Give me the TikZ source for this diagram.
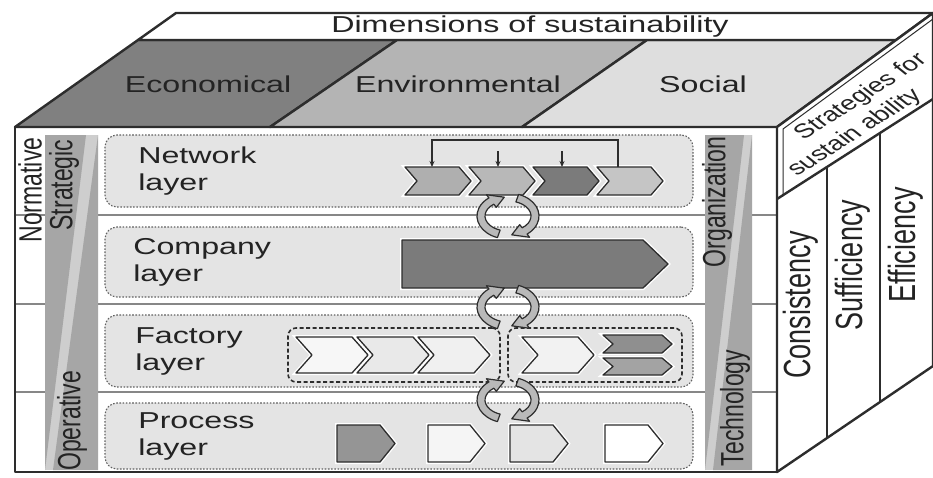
\documentclass[tikz,border=0pt]{standalone}
\usepackage{fontspec}
\setmainfont{Liberation Sans}
\usetikzlibrary{arrows.meta, calc}

\definecolor{EdgeColor}{RGB}{45,45,45}
\definecolor{TextColor}{RGB}{35,35,35}
\definecolor{EconGray}{RGB}{128,128,128}
\definecolor{EnvGray}{RGB}{180,180,180}
\definecolor{SocGray}{RGB}{222,222,222}
\definecolor{RowGray}{RGB}{228,228,228}
\definecolor{BandDark}{RGB}{166,166,166}
\definecolor{BandLight}{RGB}{206,206,206}
\definecolor{RuleGray}{RGB}{135,135,135}
\definecolor{LoopGray}{RGB}{185,185,185}
\definecolor{CompGray}{RGB}{123,123,123}

\tikzset{
  edge/.style={draw=EdgeColor, line width=2.4pt, line join=round},
  rowbox/.style={draw=EdgeColor!75, fill=RowGray, rounded corners=12pt, dash pattern=on 1.6pt off 1.6pt, line width=1.1pt, minimum width=588pt, inner sep=0pt},
  groupbox/.style={draw=EdgeColor, rounded corners=8pt, dash pattern=on 4pt off 2.5pt, line width=1.6pt, inner sep=0pt, minimum height=54pt},
  lbl/.style={font=\fontsize{23}{27}\selectfont, text=TextColor, inner sep=0pt, xscale=1.4},
  vlbl/.style={lbl, rotate=90},
  rowlbl/.style={lbl, align=left, anchor=west},
  slantlbl/.style={lbl, font=\fontsize{20}{24}\selectfont, rotate=41.6},
  part/.style={draw=EdgeColor, line width=1.3pt, line join=round, preaction={draw=white, line width=4pt}},
  feedback/.style={draw=EdgeColor, line width=1.3pt, -{Stealth[length=6pt, width=5pt]}},
  looparc/.style={draw=EdgeColor, fill=LoopGray, line width=1.2pt, line join=round},
}

% left x, tip x, top y, bottom y, depth, fill
\newcommand{\chevshape}[6]{%
  \path[part, fill=#6] (#1,#3) -- ({#2-#5},#3) -- (#2,{(#3+#4)/2}) -- ({#2-#5},#4) -- (#1,#4) -- ({#1+#5},{(#3+#4)/2}) -- cycle;}
\newcommand{\tagshape}[6]{%
  \path[part, fill=#6] (#1,#3) -- ({#2-#5},#3) -- (#2,{(#3+#4)/2}) -- ({#2-#5},#4) -- (#1,#4) -- cycle;}
% pair of circular arrows round a coordinate
\newcommand{\loopicon}[1]{%
  \path[looparc] ($(#1)+(110:31 and 23)$) arc[start angle=110, end angle=232, x radius=31, y radius=23]
    -- ($(#1)+(232:35 and 27)$) -- ($(#1)+(262:27 and 19)$) -- ($(#1)+(232:19 and 11)$) -- ($(#1)+(232:23 and 15)$)
    arc[start angle=232, end angle=110, x radius=23, y radius=15] -- cycle;
  \path[looparc] ($(#1)+(290:31 and 23)$) arc[start angle=290, end angle=412, x radius=31, y radius=23]
    -- ($(#1)+(412:35 and 27)$) -- ($(#1)+(442:27 and 19)$) -- ($(#1)+(412:19 and 11)$) -- ($(#1)+(412:23 and 15)$)
    arc[start angle=412, end angle=290, x radius=23, y radius=15] -- cycle;}

\begin{document}
\begin{tikzpicture}[x=1pt, y=-1pt]
\useasboundingbox (0,0) rectangle (933,477);

% front face
\fill[white] (15,127) rectangle (777,472);
\foreach \y in {215,304,392}
  \draw[RuleGray, line width=2.5pt] (15,\y) -- (777,\y);

\node[rowbox, minimum height=72pt] (netrow) at (399,171) {};
\node[rowbox, minimum height=70pt] (comprow) at (399,262) {};
\node[rowbox, minimum height=72pt] (factrow) at (399,351) {};
\node[rowbox, minimum height=66pt] (procrow) at (399,436) {};

% side bands
\fill[BandLight] (45,135) rectangle (98,470);
\fill[BandDark] (45,135) -- (86,135) -- (45,470) -- cycle;
\fill[BandDark] (98,135) -- (98,470) -- (53,470) -- cycle;
\fill[BandLight] (705,135) rectangle (752,470);
\fill[BandDark] (705,135) -- (744,135) -- (705,470) -- cycle;
\fill[BandDark] (752,135) -- (752,470) -- (713,470) -- cycle;

\node[vlbl] (normative) at (30,190) {Normative};
\node[vlbl] (strategic) at (64,185) {Strategic};
\node[vlbl] (operative) at (72,421) {Operative};
\node[vlbl] (organization) at (717,202) {Organization};
\node[vlbl] (technology) at (735,408) {Technology};

\node[rowlbl] (netlbl) at (138,171) {Network\\layer};
\node[rowlbl] (complbl) at (133,262) {Company\\layer};
\node[rowlbl] (factlbl) at (135,351) {Factory\\layer};
\node[rowlbl] (proclbl) at (138,436) {Process\\layer};

% network layer
\chevshape{405}{471}{167}{195}{12}{BandDark!90!white}
\chevshape{469}{535}{167}{195}{12}{BandDark!80!white}
\chevshape{533}{599}{167}{195}{12}{CompGray}
\chevshape{597}{663}{167}{195}{12}{BandDark!65!white}
\coordinate (net1top) at (432,167);
\coordinate (net2top) at (498,167);
\coordinate (net3top) at (562,167);
\coordinate (net4top) at (618,167);
\coordinate (net2in) at (498,151);
\coordinate (net3in) at (562,151);
\draw[feedback] (net4top) -- ++(0,-27) -| (net1top);
\draw[feedback] (net2in) -- (net2top);
\draw[feedback] (net3in) -- (net3top);

% company layer
\tagshape{402}{668}{240}{288}{25}{CompGray}

% factory layer
\node[groupbox, minimum width=212pt] (factgrpA) at (394,355) {};
\node[groupbox, minimum width=174pt] (factgrpB) at (595,355) {};
\chevshape{296}{368}{337}{373}{16}{white!97!black}
\chevshape{357}{429}{337}{373}{16}{RowGray!80!white}
\chevshape{418}{490}{337}{373}{16}{white!94!black}
\chevshape{522}{594}{337}{373}{16}{white!95!black}
\chevshape{603}{672}{335}{353}{10}{CompGray!85!white}
\chevshape{603}{672}{358}{375}{10}{CompGray!70!white}

% process layer
\tagshape{337}{395}{425}{462}{15}{BandDark!90!black}
\tagshape{428}{485}{425}{462}{15}{white!96!black}
\tagshape{510}{568}{425}{462}{15}{RowGray}
\tagshape{605}{663}{425}{462}{15}{white}

% cycles between layers
\coordinate (loopNC) at (508,216);
\coordinate (loopCF) at (508,307);
\coordinate (loopFP) at (508,400);
\loopicon{loopNC}
\loopicon{loopCF}
\loopicon{loopFP}

\draw[edge] (15,127) rectangle (777,472);

% top face
\path[edge, fill=EconGray] (15,127) -- (270,127) -- (397,40) -- (138,40) -- cycle;
\path[edge, fill=EnvGray] (270,127) -- (522,127) -- (647,40) -- (397,40) -- cycle;
\path[edge, fill=SocGray] (522,127) -- (777,127) -- (896,40) -- (647,40) -- cycle;
\path[edge, fill=white] (138,40) -- (896,40) -- (933,13) -- (176,13) -- cycle;
\node[lbl] (dims) at (530,27) {Dimensions of sustainability};
\node[lbl] (econ) at (208,84) {Economical};
\node[lbl] (env) at (458,84) {Environmental};
\node[lbl] (soc) at (703,84) {Social};

% right face
\coordinate (rTL) at (777,127);
\coordinate (rTR) at (933,13);
\coordinate (sbL) at (777,199);
\coordinate (sbR) at (933,99);
\coordinate (rBL) at (777,472);
\coordinate (rBR) at (933,366);
\path[edge, fill=white] (rTL) -- (rTR) -- (rBR) -- (rBL) -- cycle;
\draw[edge] (sbL) -- (sbR);
\draw[EdgeColor, line width=1pt] (783,196) -- (783,129) -- (933,19);
\draw[EdgeColor, line width=1.6pt] ($(sbL)!0.32!(sbR)$) -- ($(rBL)!0.32!(rBR)$);
\draw[EdgeColor, line width=1.6pt] ($(sbL)!0.66!(sbR)$) -- ($(rBL)!0.66!(rBR)$);
\node[slantlbl] (strat) at (861,97) {Strategies for};
\node[slantlbl] (sustain) at (855,133) {sustain ability};
\node[vlbl, font=\fontsize{27}{30}\selectfont] (cons) at (801,305) {Consistency};
\node[vlbl, font=\fontsize{27}{30}\selectfont] (suff) at (853,265) {Sufficiency};
\node[vlbl, font=\fontsize{27}{30}\selectfont] (effi) at (906,245) {Efficiency};
\end{tikzpicture}
\end{document}
